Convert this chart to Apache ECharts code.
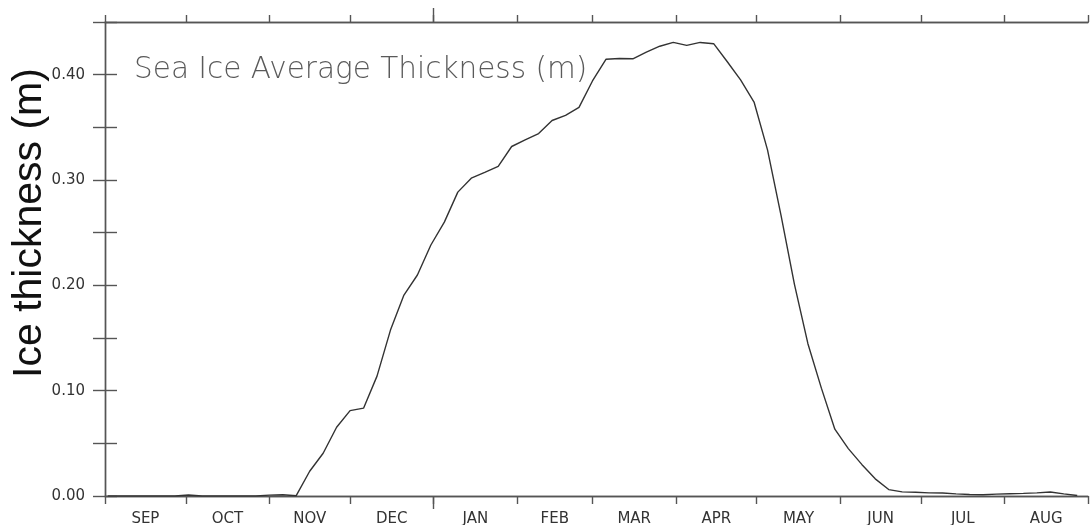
<!DOCTYPE html>
<html>
<head>
<meta charset="utf-8">
<style>
  html, body { margin: 0; padding: 0; background: #fff; }
  #chart { width: 1091px; height: 525px; }
</style>
<script src="https://cdn.jsdelivr.net/npm/echarts@6/dist/echarts.min.js"></script>
</head>
<body>
<div id="chart"></div>
<script>
// Climatological year, September through August
const monthNames = ['SEP', 'OCT', 'NOV', 'DEC', 'JAN', 'FEB', 'MAR', 'APR', 'MAY', 'JUN', 'JUL', 'AUG'];
const monthLengths = [30, 31, 30, 31, 31, 28, 31, 30, 31, 30, 31, 31];

// Y-axis ticks (m); labels every 0.10
const yTicks = [0, 0.05, 0.10, 0.15, 0.20, 0.25, 0.30, 0.35, 0.40, 0.45];
const yLabelTicks = [0, 0.10, 0.20, 0.30, 0.40];

// Sea ice average thickness (m), one value per pentad starting 1 Sep
const thickness = [
  0, 0, 0, 0, 0, 0, 0.001, 0, 0, 0, 0, 0,
  0.0008, 0.0012, 0.0003, 0.0235, 0.0406, 0.0653, 0.081, 0.0834,
  0.1138, 0.1575, 0.1908, 0.2098, 0.2383, 0.260, 0.2885, 0.3017,
  0.3072, 0.3129, 0.3318, 0.338, 0.3441, 0.3565, 0.3614, 0.369,
  0.394, 0.4146, 0.4153, 0.4151, 0.4213, 0.427, 0.4306, 0.4278,
  0.4306, 0.4294, 0.4125, 0.3951, 0.374, 0.3286, 0.2666, 0.201,
  0.1446, 0.1024, 0.0634, 0.045, 0.030, 0.0163, 0.0061, 0.0039,
  0.0035, 0.003, 0.0028, 0.002, 0.0014, 0.0012, 0.0018, 0.0022,
  0.0025, 0.003, 0.0038, 0.002, 0.0005
];

// Month boundaries and mid-month label positions, in days since 1 Sep
const monthStarts = [0];
monthLengths.forEach(len => monthStarts.push(monthStarts[monthStarts.length - 1] + len));
const monthMids = monthLengths.map((len, i) => monthStarts[i] + len / 2);
const yearDays = monthStarts[monthStarts.length - 1];
const janFirst = monthStarts[monthNames.indexOf('JAN')];

// Pentads are plotted at their first day
const seriesData = thickness.map((v, i) => [1 + 5 * i, v]);

const axisColor = '#555';
const axisWidth = 1.4;
const labelFont = { fontFamily: 'DejaVu Sans', fontSize: 15, color: '#333' };

function xAxisBase(position, tickValues, tickLen) {
  return {
    type: 'value',
    position: position,
    min: 0,
    max: yearDays,
    splitLine: { show: false },
    axisLine: { show: true, lineStyle: { color: axisColor, width: axisWidth } },
    axisTick: {
      show: true, inside: false, length: tickLen,
      customValues: tickValues,
      lineStyle: { color: axisColor, width: axisWidth }
    },
    axisLabel: { show: false }
  };
}

const chart = echarts.init(document.getElementById('chart'), null, { renderer: 'canvas' });

const bottomAxis = xAxisBase('bottom', monthStarts, 8);
bottomAxis.axisLabel = Object.assign({
  show: true,
  margin: 16,
  customValues: monthMids,
  formatter: function (v) {
    const i = monthMids.findIndex(m => Math.abs(m - v) < 0.01);
    return i >= 0 ? monthNames[i] : '';
  }
}, labelFont);

function yAxisBase(position, showLabels) {
  return {
    type: 'value',
    position: position,
    min: 0,
    max: 0.45,
    interval: 0.05,
    splitLine: { show: false },
    axisLine: { show: true, lineStyle: { color: axisColor, width: axisWidth } },
    axisTick: {
      show: true, inside: false, length: 12,
      customValues: yTicks,
      lineStyle: { color: axisColor, width: axisWidth }
    },
    axisLabel: showLabels ? Object.assign({
      show: true,
      margin: 20,
      customValues: yLabelTicks,
      formatter: v => v.toFixed(2)
    }, labelFont) : { show: false }
  };
}

chart.setOption({
  animation: false,
  backgroundColor: '#fff',
  grid: {
    left: 105, top: 22, width: 983, height: 474,
    containLabel: false,
    outerBoundsMode: 'none'
  },
  title: {
    text: 'Sea Ice Average Thickness (m)',
    left: 129,
    top: 50,
    textStyle: { fontFamily: 'DejaVu Sans', fontWeight: 200, fontSize: 29.5, color: '#5a5a5a' }
  },
  graphic: [{
    type: 'text',
    x: 30,
    y: 223,
    rotation: Math.PI / 2,
    style: {
      text: 'Ice thickness (m)',
      font: '41px "Liberation Sans", Arial, sans-serif',
      fill: '#111',
      textAlign: 'center',
      textVerticalAlign: 'middle'
    }
  }],
  xAxis: [
    bottomAxis,
    xAxisBase('bottom', [janFirst], 13),
    xAxisBase('top', monthStarts, 7),
    xAxisBase('top', [janFirst], 14)
  ],
  yAxis: [
    yAxisBase('left', true),
    yAxisBase('right', false)
  ],
  series: [{
    type: 'line',
    xAxisIndex: 0,
    yAxisIndex: 0,
    data: seriesData,
    showSymbol: false,
    smooth: false,
    lineStyle: { color: '#333', width: 1.4 }
  }]
});
</script>
</body>
</html>
